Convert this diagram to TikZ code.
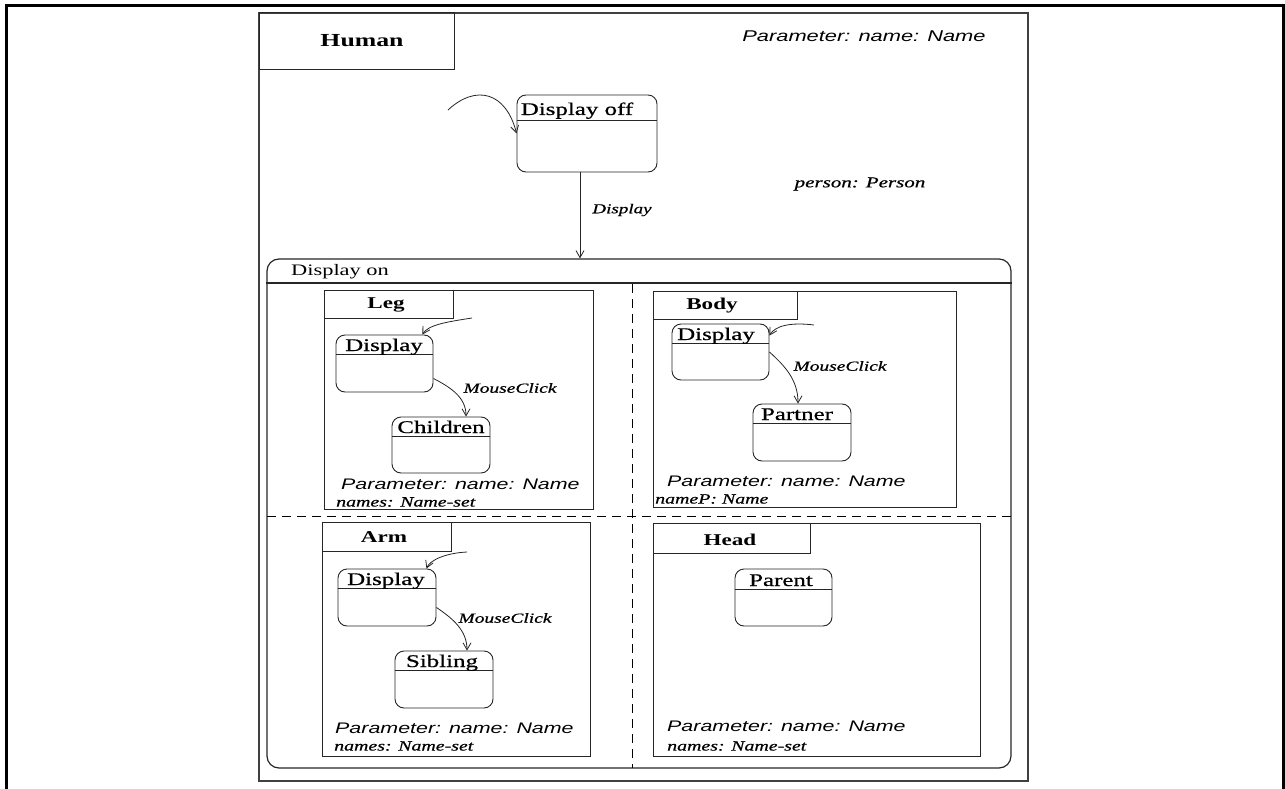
\documentclass[tikz,border=0pt]{standalone}
\usepackage{fontspec}
\setmainfont[FakeStretch=1.4]{Liberation Serif}
\newfontfamily\heavyserif[FakeStretch=1.4,FakeBold=0.7]{Liberation Serif}
\newfontfamily\paramfont[FakeStretch=1.4]{Liberation Sans}
\usetikzlibrary{arrows.meta,calc,fit}

\begin{document}
\begin{tikzpicture}[x=1pt,y=-1pt,
  box/.style={draw=black!85, line width=1pt, inner sep=0pt},
  statebox/.style={draw=black!85, line width=0.9pt, rounded corners=9pt, inner sep=0pt},
  hdr/.style={draw=black!85, line width=0.9pt},
  arr/.style={draw=black!85, line width=0.8pt, -{Straight Barb[length=7pt,width=8pt]}},
  sep/.style={draw=black, line width=1pt, dash pattern=on 9pt off 6pt},
  mtitle/.style={font=\fontsize{18.4}{20}\selectfont\bfseries, inner sep=0pt},
  ctitle/.style={font=\fontsize{16.5}{18}\selectfont\bfseries, inner sep=0pt},
  stname/.style={font=\heavyserif\fontsize{17.8}{19}\selectfont, inner sep=0pt, anchor=base},
  evt/.style={font=\heavyserif\fontsize{13.9}{15}\selectfont\itshape, inner sep=0pt},
  param/.style={font=\paramfont\itshape\fontsize{15.3}{17}\selectfont, inner sep=0pt, anchor=west},
  attr/.style={font=\heavyserif\fontsize{14.2}{15}\selectfont\itshape, inner sep=0pt, anchor=west}
]
\useasboundingbox (0,0) rectangle (1285,789);

% page frame, open at the bottom
\draw[line width=3pt] (6,789) -- (6,6) -- (1283,6) -- (1283,789);

% ---- Human chart ----
\node[box, draw=black!75, line width=1.3pt, fit={(259,13) (1028,781)}] (human) {};
\node[box, fit={(259,13) (454,70)}] (humanL) {};
\node[mtitle] (humanT) at (362,41) {Human};
\node[font=\paramfont\itshape\fontsize{15.6}{18}\selectfont, inner sep=0pt] (humanP) at (864,36) {Parameter: name: Name};
\node[font=\heavyserif\fontsize{15}{17}\selectfont\itshape, inner sep=0pt] (humanV) at (860,184) {person: Person};

% Display off state
\node[statebox, fit={(517,95) (657,172)}] (doff) {};
\draw[hdr] (doff.west |- 0,120) -- (doff.east |- 0,120);
\node[stname] (doffT) at (577,115) {Display off};
\coordinate (doffI) at (448,110);
\draw[arr] (doffI) .. controls (476,84) and (506,92) .. (doff.west);

% Display on superstate
\node[statebox, line width=1.2pt, rounded corners=12pt, fit={(267,259) (1011,768)}] (don) {};
\draw[hdr, line width=1.1pt] (don.west |- 0,283) -- (don.east |- 0,283);
\node[font=\fontsize{16}{18}\selectfont, inner sep=0pt, anchor=west] (donT) at (291,272) {Display on};

% transition Display
\coordinate (tA) at ($(doff.south)+(-7,0)$);
\draw[arr] (tA) -- (tA |- don.north);
\node[font=\heavyserif\fontsize{13.6}{15}\selectfont\itshape, inner sep=0pt] (tAL) at (622,210) {Display};

% concurrent regions
\coordinate (vTop) at (632,284);
\coordinate (vBot) at (632,768);
\draw[sep] (vTop) -- (vBot);
\coordinate (hL) at (267,516);
\coordinate (hR) at (1011,516);
\draw[sep] (hL) -- (hR);

% ---- Leg ----
\node[box, fit={(324,290) (593,509)}] (leg) {};
\node[box, fit={(324,290) (453,318)}] (legL) {};
\node[ctitle] (legT) at (386,305) {Leg};
\node[statebox, fit={(336,335) (433,392)}] (legD) {};
\draw[hdr] (legD.west |- 0,354) -- (legD.east |- 0,354);
\node[stname] (legDT) at (384,351) {Display};
\node[statebox, fit={(392,417) (490,473)}] (legC) {};
\draw[hdr] (legC.west |- 0,436) -- (legC.east |- 0,436);
\node[stname] (legCT) at (441,433) {Children};
\coordinate (legI) at (472,318);
\draw[arr] (legI) .. controls (446,322) and (428,325) .. ($(legD.north east)+(-11,0)$);
\draw[arr] ($(legD.east)+(0,15)$) .. controls (452,388) and (466,398) .. ($(legC.north)+(25,0)$);
\node[evt] (legE) at (510,388) {MouseClick};
\node[param] (legP) at (341,484) {Parameter: name: Name};
\node[attr] (legA) at (336,502) {names: Name-set};

% ---- Body ----
\node[box, fit={(653,291) (956,507)}] (body) {};
\node[box, fit={(653,291) (797,319)}] (bodyL) {};
\node[ctitle] (bodyT) at (712,306) {Body};
\node[statebox, fit={(672,324) (769,380)}] (bodyD) {};
\draw[hdr] (bodyD.west |- 0,343) -- (bodyD.east |- 0,343);
\node[stname] (bodyDT) at (716,340) {Display};
\node[statebox, fit={(753,404) (851,461)}] (bodyP) {};
\draw[hdr] (bodyP.west |- 0,423) -- (bodyP.east |- 0,423);
\node[stname] (bodyPT) at (797,420) {Partner};
\coordinate (bodyI) at (814,325);
\draw[arr] (bodyI) .. controls (790,322) and (775,326) .. ($(bodyD.north east)+(0,12)$);
\draw[arr] (bodyD.east) .. controls (785,366) and (798,380) .. ($(bodyP.north)+(-4,0)$);
\node[evt] (bodyE) at (840,366) {MouseClick};
\node[param] (bodyP2) at (667,481) {Parameter: name: Name};
\node[attr] (bodyA) at (655,499) {nameP: Name};

% ---- Arm ----
\node[box, fit={(322,522) (590,756)}] (arm) {};
\node[box, fit={(322,522) (451,551)}] (armL) {};
\node[ctitle] (armT) at (384,537) {Arm};
\node[statebox, fit={(338,569) (436,626)}] (armD) {};
\draw[hdr] (armD.west |- 0,588) -- (armD.east |- 0,588);
\node[stname] (armDT) at (386,585) {Display};
\node[statebox, fit={(395,651) (493,708)}] (armS) {};
\draw[hdr] (armS.west |- 0,670) -- (armS.east |- 0,670);
\node[stname] (armST) at (442,667) {Sibling};
\coordinate (armI) at (467,552);
\draw[arr] (armI) .. controls (446,553) and (430,560) .. ($(armD.north east)+(-10,0)$);
\draw[arr] ($(armD.east)+(0,10)$) .. controls (452,618) and (467,630) .. ($(armS.north)+(23,0)$);
\node[evt] (armE) at (505,618) {MouseClick};
\node[param] (armP) at (335,728) {Parameter: name: Name};
\node[attr] (armA) at (334,746) {names: Name-set};

% ---- Head ----
\node[box, fit={(653,523) (980,756)}] (head) {};
\node[box, fit={(653,523) (810,553)}] (headL) {};
\node[ctitle] (headT) at (730,540) {Head};
\node[statebox, fit={(735,569) (832,626)}] (headS) {};
\draw[hdr] (headS.west |- 0,589) -- (headS.east |- 0,589);
\node[stname] (headST) at (781,586) {Parent};
\node[param] (headP) at (667,726) {Parameter: name: Name};
\node[attr] (headA) at (667,746) {names: Name-set};

\end{tikzpicture}
\end{document}
